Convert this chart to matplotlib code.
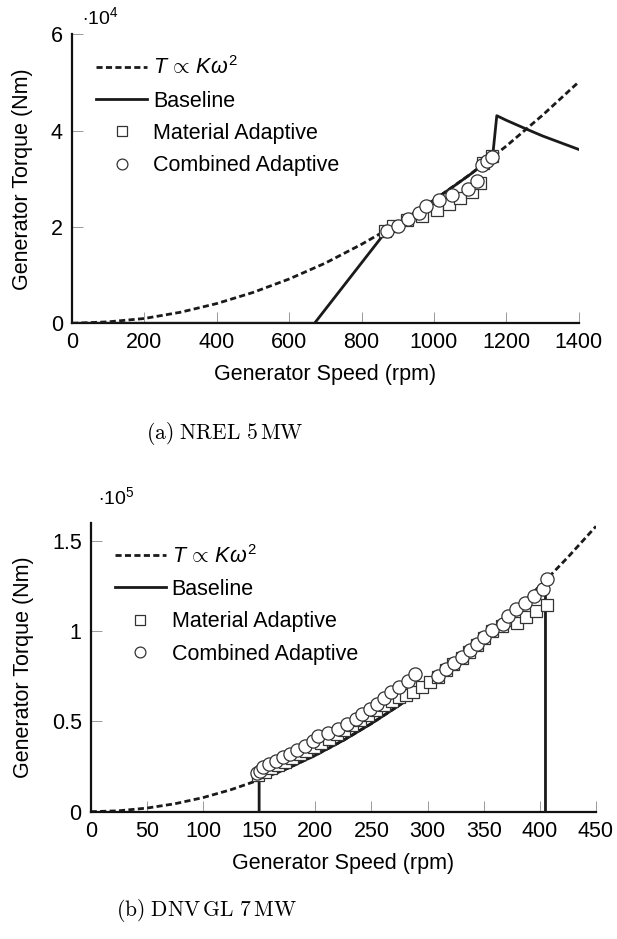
import numpy as np
import matplotlib
matplotlib.use("Agg")
import matplotlib.pyplot as plt
from matplotlib.ticker import FormatStrFormatter

plt.rcParams['font.family'] = ['Liberation Sans', 'DejaVu Sans']
plt.rcParams['mathtext.fontset'] = 'custom'
plt.rcParams['mathtext.rm'] = 'Liberation Sans'
plt.rcParams['mathtext.it'] = 'Liberation Sans:italic'
plt.rcParams['mathtext.cal'] = 'Liberation Sans:italic'

# ---- (a) NREL 5 MW, torque in 1e4 Nm ----
a_curve_rpm = [0, 100, 200, 300, 400, 500, 600, 700, 800, 900, 1000, 1100, 1200, 1300, 1400]
a_curve_T = [0, 0.03, 0.10, 0.23, 0.41, 0.64, 0.92, 1.25, 1.64, 2.07, 2.56, 3.09, 3.68, 4.32, 5.01]

a_base_rpm = [0, 670, 871, 950, 1000, 1050, 1100, 1162, 1173.7, 1200, 1250, 1300, 1350, 1400]
a_base_T = [0, 0, 1.94, 2.31, 2.56, 2.82, 3.09, 3.45, 4.31, 4.215, 4.05, 3.89, 3.75, 3.61]

a_mat_rpm = [865, 888, 926, 966, 1008, 1042, 1072, 1104, 1127, 1135, 1160]
a_mat_T = [1.92, 2.02, 2.14, 2.23, 2.35, 2.47, 2.60, 2.73, 2.91, 3.32, 3.47]

a_comb_rpm = [870, 902, 927, 960, 978, 1014, 1051, 1095, 1118, 1132, 1148, 1160]
a_comb_T = [1.92, 2.02, 2.17, 2.28, 2.44, 2.56, 2.67, 2.79, 2.96, 3.28, 3.37, 3.46]

# ---- (b) DNV GL 7 MW, torque in 1e5 Nm ----
b_curve_rpm = [0, 25, 50, 75, 100, 125, 150, 175, 200, 225, 250, 275, 300, 325, 350, 375, 400, 425, 450]
b_curve_T = [0, 0.005, 0.020, 0.044, 0.078, 0.122, 0.176, 0.239, 0.312, 0.395, 0.488, 0.590,
             0.702, 0.824, 0.956, 1.097, 1.248, 1.409, 1.580]

b_base_rpm = [150, 150, 175, 200, 225, 250, 275, 300, 325, 350, 375, 405, 405]
b_base_T = [0, 0.176, 0.239, 0.312, 0.395, 0.488, 0.590, 0.702, 0.824, 0.956, 1.097, 1.28, 0]

b_mat_rpm = [149, 155, 161, 167, 173, 179, 186, 192, 199, 205, 212, 219, 226, 233, 240, 247,
             254, 261, 268, 275, 281, 287, 295, 302, 309, 316, 323, 331, 337, 344, 350, 357,
             366, 372, 380, 388, 397, 406]
b_mat_T = [0.205, 0.222, 0.240, 0.258, 0.277, 0.296, 0.318, 0.338, 0.360, 0.381, 0.405, 0.430,
           0.455, 0.482, 0.508, 0.535, 0.563, 0.590, 0.615, 0.635, 0.645, 0.662, 0.690, 0.717,
           0.748, 0.785, 0.815, 0.850, 0.885, 0.922, 0.960, 0.998, 1.030, 1.060, 1.043, 1.079,
           1.113, 1.146]

b_comb_rpm = [148, 151, 153, 159, 165, 171.5, 177.5, 184, 191, 198, 202, 211, 220.5, 228, 236,
              242, 249, 255, 261, 267, 275, 283, 289, 309, 316, 323.5, 331, 337.5, 344, 350,
              357, 367, 372, 379, 387, 395, 402.5, 406]
b_comb_T = [0.212, 0.226, 0.248, 0.263, 0.281, 0.303, 0.322, 0.344, 0.366, 0.390, 0.418, 0.438,
            0.460, 0.488, 0.515, 0.539, 0.568, 0.596, 0.629, 0.663, 0.693, 0.725, 0.762, 0.754,
            0.791, 0.822, 0.855, 0.894, 0.930, 0.969, 1.006, 1.039, 1.082, 1.122, 1.158, 1.195,
            1.235, 1.286]

LINE = '#1a1a1a'
fs = 15.5

fig = plt.figure(figsize=(6.17, 9.39), dpi=100)
ax1 = fig.add_axes([72 / 617, 1 - 323.3 / 939, 506.7 / 617, 289 / 939])
ax2 = fig.add_axes([90.7 / 617, 1 - 811.7 / 939, 505.3 / 617, 289 / 939])


def draw(ax, crpm, cT, brpm, bT, mrpm, mT, orpm, oT, legx):
    ax.plot(crpm, cT, ls=(0, (2.2, 1.2)), color=LINE, lw=2.0, label=r'$T\,\propto\,K\omega^2$', zorder=2)
    ax.plot(brpm, bT, '-', color=LINE, lw=2.0, label='Baseline', zorder=3)
    ax.plot(mrpm, mT, 's', ms=9, mfc='white', mec='#333333', mew=0.9, ls='none',
            label='Material Adaptive', zorder=4)
    ax.plot(orpm, oT, 'o', ms=9.5, mfc='white', mec='#333333', mew=0.9, ls='none',
            label='Combined Adaptive', zorder=5)
    for s in ['top', 'right']:
        ax.spines[s].set_visible(False)
    for s in ['left', 'bottom']:
        ax.spines[s].set_linewidth(1.6)
        ax.spines[s].set_color('#111111')
    ax.tick_params(direction='in', length=8, width=0.7, color='#9a9a9a', labelsize=fs, pad=6.5)
    ax.set_xlabel('Generator Speed (rpm)', fontsize=fs, labelpad=8)
    ax.set_ylabel('Generator Torque (Nm)', fontsize=fs, labelpad=13)
    ax.yaxis.set_major_formatter(FormatStrFormatter('%g'))
    leg = ax.legend(loc='upper left', bbox_to_anchor=(legx, 0.924), frameon=False, fontsize=fs,
                    handlelength=2.35, handletextpad=0.28, labelspacing=0.53, borderpad=0,
                    borderaxespad=0, markerscale=0.82)
    return leg


draw(ax1, a_curve_rpm, a_curve_T, a_base_rpm, a_base_T, a_mat_rpm, a_mat_T, a_comb_rpm, a_comb_T, 0.048)
ax1.set_xlim(0, 1400)
ax1.set_ylim(0, 6)
ax1.set_xticks(np.arange(0, 1401, 200))
ax1.set_yticks([0, 2, 4, 6])
ax1.text(0.02, 1.06, r'$\cdot 10^4$', transform=ax1.transAxes, fontsize=fs - 1.5, va='center')

draw(ax2, b_curve_rpm, b_curve_T, b_base_rpm, b_base_T, b_mat_rpm, b_mat_T, b_comb_rpm, b_comb_T, 0.048)
ax2.set_xlim(0, 450)
ax2.set_ylim(0, 1.6)
ax2.set_xticks(np.arange(0, 451, 50))
ax2.set_yticks([0, 0.5, 1, 1.5])
ax2.text(0.015, 1.09, r'$\cdot 10^5$', transform=ax2.transAxes, fontsize=fs - 1.5, va='center')

fig.text(225 / 617, 1 - 433 / 939, r'$\mathrm{(a)\ NREL\ 5\,MW}$', fontsize=15.5,
         math_fontfamily='cm', ha='center', va='center')
fig.text(206 / 617, 1 - 910 / 939, r'$\mathrm{(b)\ DNV\,GL\ 7\,MW}$', fontsize=15.5,
         math_fontfamily='cm', ha='center', va='center')

fig.savefig('out.png', dpi=100)
